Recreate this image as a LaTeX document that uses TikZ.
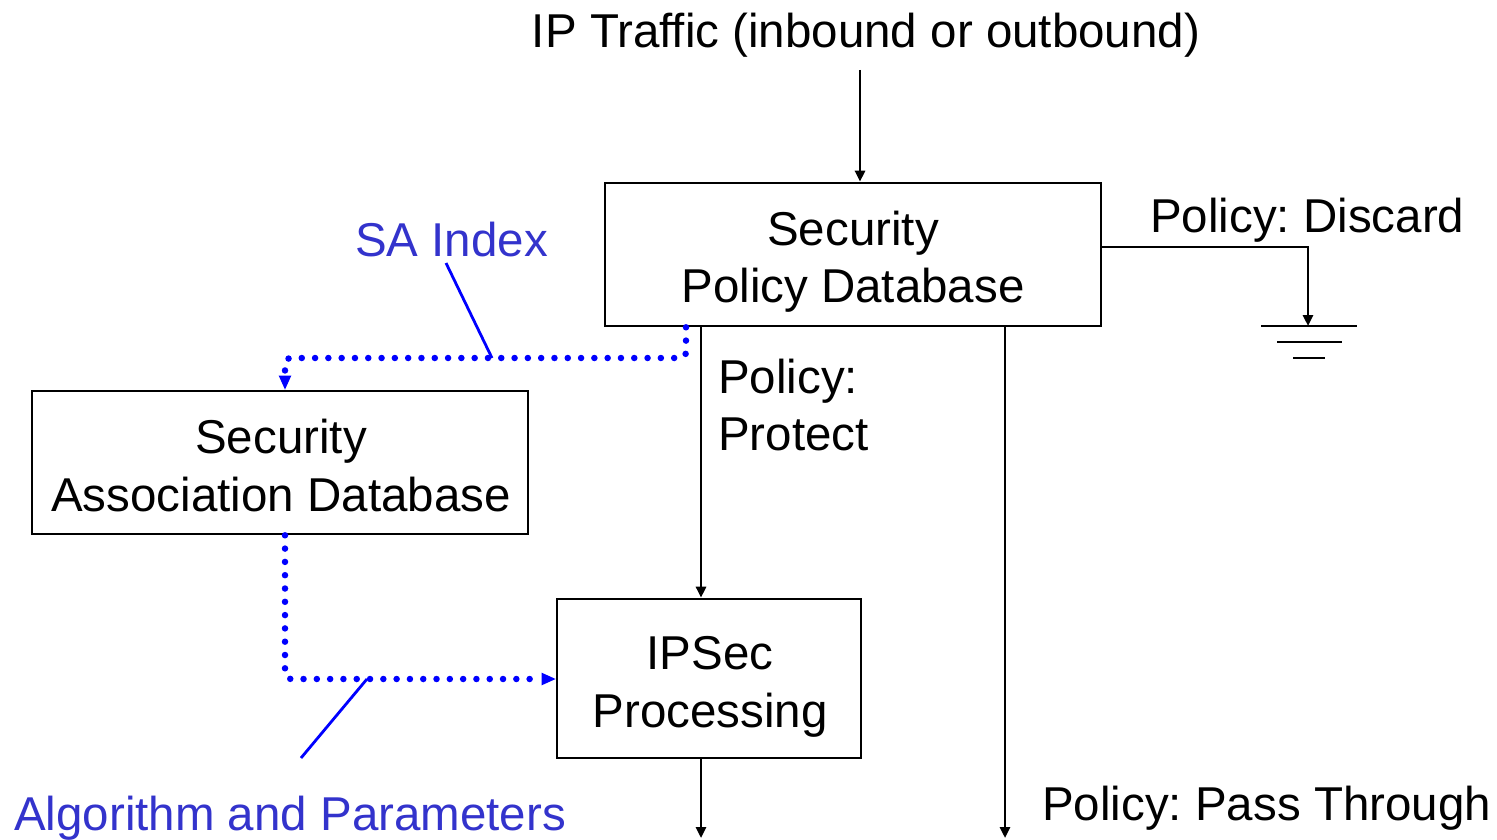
\documentclass[tikz,border=0pt]{standalone}
\usepackage{fontspec}
\setmainfont{Liberation Sans}
\frenchspacing
\usetikzlibrary{arrows.meta}
\definecolor{lblblue}{HTML}{3333CC}
\begin{document}
\begin{tikzpicture}[x=1pt,y=-1pt,
  txt/.style={font=\fontsize{47.5}{58}\selectfont, inner sep=0pt},
  bluetxt/.style={txt, text=lblblue},
  box/.style={draw=black, line width=2.6pt, inner sep=0pt},
  flow/.style={draw=black, line width=2.6pt, -{Triangle[length=11pt,width=10pt]}},
  sadot/.style={draw=blue, line width=6.5pt, line cap=round, dash pattern=on 0pt off 13.3pt,
    rounded corners=6pt},
  satip/.style={-{Triangle[length=14pt,width=12pt,fill=blue]}},
  leader/.style={draw=blue, line width=2.8pt}]
\useasboundingbox (0,0) rectangle (1497,840);

% boxes
\node[box, minimum width=496pt, minimum height=143pt] (spd) at (853,254.5) {};
\node[box, minimum width=496pt, minimum height=143pt] (sad) at (280,462.5) {};
\node[box, minimum width=304pt, minimum height=159pt] (ipsec) at (709,678.5) {};

% box texts
\node[txt, anchor=base] (spd1) at (853,245) {Security};
\node[txt, anchor=base] (spd2) at (853,302) {Policy Database};
\node[txt, anchor=base] (sad1) at (281,453) {Security};
\node[txt, anchor=base] (sad2) at (281,511) {Association Database};
\node[txt, anchor=base] (ips1) at (710,669) {IPSec};
\node[txt, anchor=base] (ips2) at (710,727) {Processing};

% plain labels
\node[txt, anchor=base] (title) at (866,48) {IP Traffic (inbound or outbound)};
\node[txt, anchor=base west] (disc) at (1150,232) {Policy: Discard};
\node[txt, anchor=base west] (prot1) at (718,393) {Policy:};
\node[txt, anchor=base west] (prot2) at (718,450) {Protect};
\node[txt, anchor=base west] (pass) at (1042,820) {Policy: Pass Through};
\node[bluetxt, anchor=base west] (saidx) at (355,256) {SA Index};
\node[bluetxt, anchor=base west] (algo) at (14,830) {Algorithm and Parameters};

% connector end points
\coordinate (intop) at (860,70);
\coordinate (gnd) at (1308,326);
\coordinate (passend) at (1005,838);
\coordinate (outend) at (701,838);
\coordinate (saidxfoot) at (446,263);
\coordinate (saidxhit) at (492,358);
\coordinate (algofoot) at (301,758);
\coordinate (algohit) at (367,679);

% main traffic flow
\draw[flow] (intop) -- (intop |- spd.north);
\draw[flow] (spd.east |- 0,247) -| (gnd);
\draw[flow] (spd.south -| 701,0) -- (ipsec.north -| 701,0);
\draw[flow] (spd.south -| passend) -- (passend);
\draw[flow] (ipsec.south -| outend) -- (outend);

% ground symbol
\draw[line width=2.6pt] (1261,326) -- (1357,326);
\draw[line width=2.6pt] (1277,342) -- (1342,342);
\draw[line width=2.6pt] (1293,358) -- (1325,358);

% SA lookups (dotted)
\draw[sadot] (spd.south -| 686,0) -- (686,358) -- (285,358) -- (285,376);
\draw[draw=blue, line width=2pt, satip] (285,377) -- (sad.north -| 285,0);
\draw[sadot] (sad.south -| 285,0) -- (285,679) -- (541,679);
\draw[draw=blue, line width=2pt, satip] (542,679) -- (ipsec.west |- 0,679);

% leaders
\draw[leader] (saidxfoot) -- (saidxhit);
\draw[leader] (algofoot) -- (algohit);
\end{tikzpicture}
\end{document}
